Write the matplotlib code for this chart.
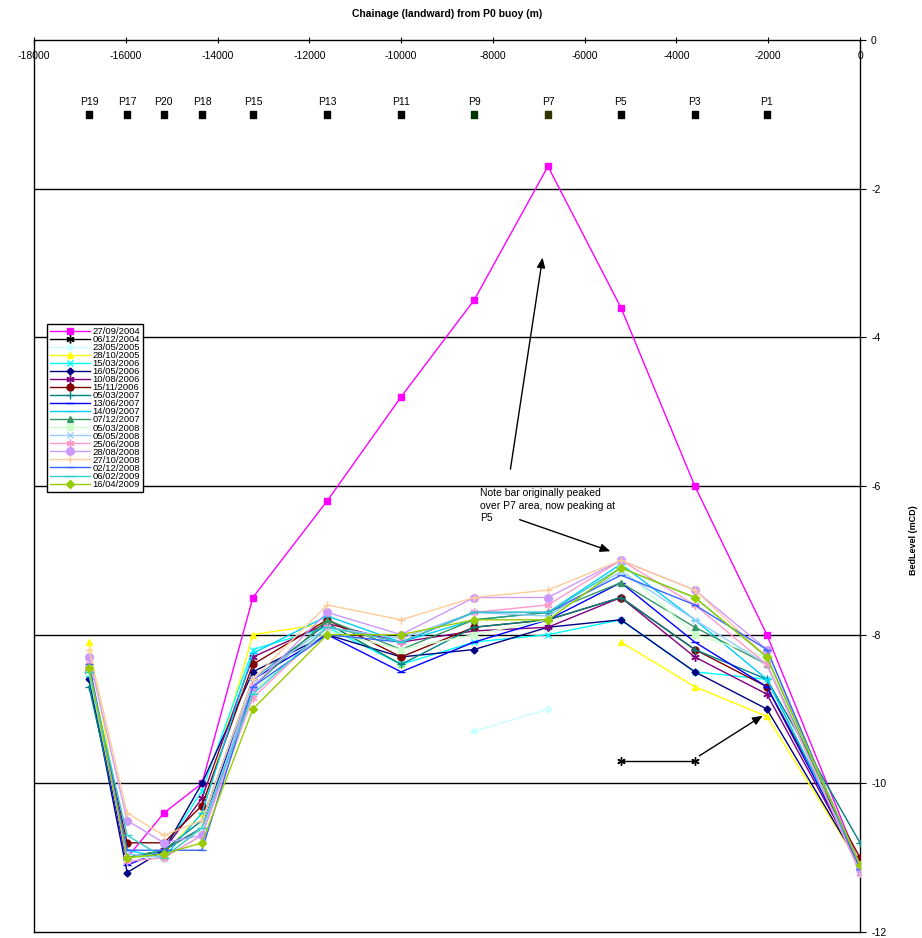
import numpy as np
import matplotlib
matplotlib.use('Agg')
import matplotlib.pyplot as plt

plt.rcParams['font.family'] = ['Liberation Sans', 'DejaVu Sans']
plt.rcParams['axes.unicode_minus'] = False

nan = np.nan

# chainage of the profile points (m, landward from P0 buoy)
chainage = [-16800, -15970, -15170, -14340, -13230, -11610, -10000,
            -8410, -6800, -5210, -3600, -2030, 0]
station_names = ['P19', 'P17', 'P20', 'P18', 'P15', 'P13', 'P11',
                 'P9', 'P7', 'P5', 'P3', 'P1']
station_level = -1.0

# bed levels (mCD) per survey, same order as chainage
s_27_09_2004 = [nan, -11.0, -10.4, -10.0, -7.5, -6.2, -4.8, -3.5, -1.7, -3.6, -6.0, -8.0, -11.1]
s_06_12_2004 = [nan, nan, nan, nan, nan, nan, nan, nan, nan, -9.7, -9.7, nan, nan]
s_23_05_2005 = [nan, nan, nan, nan, nan, nan, nan, -9.3, -9.0, nan, nan, nan, nan]
s_28_10_2005 = [-8.1, -11.0, -10.95, -10.4, -8.0, -7.85, -8.4, nan, nan, -8.1, -8.7, -9.1, -11.1]
s_15_03_2006 = [-8.5, -11.0, -10.9, -10.1, -8.2, -7.9, -8.4, -8.1, -8.0, -7.8, -8.5, -8.6, -11.1]
s_16_05_2006 = [-8.6, -11.2, -10.9, -10.0, -8.5, -8.0, -8.3, -8.2, -7.9, -7.8, -8.5, -9.0, -11.1]
s_10_08_2006 = [-8.45, -11.0, -10.9, -10.2, -8.3, -7.85, -8.1, -7.95, -7.9, -7.5, -8.3, -8.8, -11.1]
s_15_11_2006 = [-8.5, -10.8, -10.8, -10.3, -8.4, -7.8, -8.3, -7.9, -7.8, -7.5, -8.2, -8.7, -11.0]
s_05_03_2007 = [-8.7, -11.0, -10.9, -10.5, -8.6, -7.85, -8.4, -7.9, -7.8, -7.5, -8.2, -8.6, -10.8]
s_13_06_2007 = [-8.5, -11.1, -10.9, -10.6, -8.6, -8.0, -8.5, -8.1, -7.8, -7.3, -8.1, -8.7, -11.1]
s_14_09_2007 = [-8.55, -10.9, -11.0, -10.4, -8.25, -7.75, -8.1, -7.8, -7.7, -7.05, -7.8, -8.6, -11.1]
s_07_12_2007 = [-8.45, -11.0, -10.9, -10.6, -8.7, -7.8, -8.2, -7.8, -7.7, -7.3, -7.9, -8.4, -11.1]
s_05_03_2008 = [-8.5, -11.0, -11.0, -10.6, -8.75, -7.95, -8.2, -8.0, -7.8, -7.1, -8.0, -8.3, -11.1]
s_05_05_2008 = [-8.45, -10.95, -11.0, -10.7, -8.6, -7.9, -8.05, -7.7, -7.75, -7.15, -7.8, -8.4, -11.2]
s_25_06_2008 = [-8.4, -11.05, -11.0, -10.7, -8.85, -7.9, -8.1, -7.7, -7.6, -7.0, -7.6, -8.4, -11.2]
s_28_08_2008 = [-8.3, -10.5, -10.8, -10.7, -8.7, -7.7, -8.0, -7.5, -7.5, -7.0, -7.4, -8.2, -11.15]
s_27_10_2008 = [-8.2, -10.4, -10.7, -10.5, -8.6, -7.6, -7.8, -7.5, -7.4, -7.0, -7.4, -8.3, -11.1]
s_02_12_2008 = [-8.4, -10.9, -10.9, -10.9, -8.7, -8.0, -8.1, -7.7, -7.7, -7.2, -7.6, -8.2, -11.15]
s_06_02_2009 = [-8.5, -10.7, -11.0, -10.6, -8.8, -7.9, -8.1, -7.7, -7.7, -7.1, -7.5, -8.3, -11.1]
s_16_04_2009 = [-8.45, -11.0, -10.95, -10.8, -9.0, -8.0, -8.0, -7.8, -7.8, -7.1, -7.5, -8.3, -11.1]

survey_dates = ['27/09/2004', '06/12/2004', '23/05/2005', '28/10/2005', '15/03/2006',
                '16/05/2006', '10/08/2006', '15/11/2006', '05/03/2007', '13/06/2007',
                '14/09/2007', '07/12/2007', '05/03/2008', '05/05/2008', '25/06/2008',
                '28/08/2008', '27/10/2008', '02/12/2008', '06/02/2009', '16/04/2009']
surveys = [s_27_09_2004, s_06_12_2004, s_23_05_2005, s_28_10_2005, s_15_03_2006,
           s_16_05_2006, s_10_08_2006, s_15_11_2006, s_05_03_2007, s_13_06_2007,
           s_14_09_2007, s_07_12_2007, s_05_03_2008, s_05_05_2008, s_25_06_2008,
           s_28_08_2008, s_27_10_2008, s_02_12_2008, s_06_02_2009, s_16_04_2009]

star = (6, 2, 0)
styles = [('#FF00FF', 's', 4.5), ('#000000', star, 6), ('#CCFFFF', 'D', 3.5),
          ('#FFFF00', '^', 5), ('#00FFFF', 'x', 5), ('#000080', 'D', 3.5),
          ('#800080', star, 6), ('#800000', 'o', 5), ('#008080', '+', 6),
          ('#0000FF', '_', 6), ('#00CCFF', '_', 6), ('#339966', '^', 5),
          ('#CCFFCC', 's', 5), ('#99CCFF', 'x', 5), ('#FF99CC', star, 6),
          ('#CC99FF', 'o', 5.5), ('#FFCC99', '+', 6), ('#3366FF', '_', 6),
          ('#33CCCC', '_', 7), ('#99CC00', 'D', 4)]
station_colors = ['black'] * 7 + ['#003300', '#333300'] + ['black'] * 3

fig = plt.figure(figsize=(9.22, 9.38), dpi=100)
ax = fig.add_axes([34 / 922, 6 / 938, 826 / 922, 892 / 938])

for yv in [-2, -4, -6, -8, -10]:
    ax.axhline(yv, color='black', lw=1, zorder=1)

x = np.array(chainage, dtype=float)
for date, vals, (col, mk, ms) in zip(survey_dates, surveys, styles):
    ax.plot(x, np.array(vals, dtype=float), color=col, marker=mk, markersize=ms,
            markeredgecolor=col, markerfacecolor=col, lw=1, label=date, zorder=3)

# station markers along the top
ax.scatter(chainage[:-1], [station_level] * len(station_names), marker='s', s=22,
           c=station_colors, zorder=4)
for cx, name in zip(chainage[:-1], station_names):
    ax.text(cx, station_level + 0.17, name, ha='center', va='center', fontsize=7.5)

# annotations
ax.text(-8281, -6.03, 'Note bar originally peaked\nover P7 area, now peaking at\nP5',
        fontsize=7.5, ha='left', va='top', linespacing=1.3)
arr = dict(arrowstyle='-|>,head_length=0.6,head_width=0.25', color='black', lw=1)
ax.annotate('', xy=(-6908, -2.89), xytext=(-7627, -5.81), arrowprops=arr)
ax.annotate('', xy=(-5382, -6.89), xytext=(-7474, -6.44), arrowprops=arr)
ax.annotate('', xy=(-2070, -9.07), xytext=(-3552, -9.65), arrowprops=arr)

ax.set_xlim(-18000, 0)
ax.set_ylim(-12, 0)
ax.set_xticks(np.arange(-18000, 1, 2000))
ax.set_yticks(np.arange(-12, 1, 2))
ax.xaxis.tick_top()
ax.tick_params(axis='x', direction='inout', length=4, labelsize=7.5, pad=-17)
ax.yaxis.tick_right()
ax.tick_params(axis='y', direction='out', length=4, labelsize=7.5, pad=4)
for sp in ax.spines.values():
    sp.set_linewidth(1)

fig.text(447 / 922, 1 - 14 / 938, 'Chainage (landward) from P0 buoy (m)',
         ha='center', va='center', fontsize=7.5, fontweight='bold')
fig.text(913 / 922, 1 - 540 / 938, 'BedLevel (mCD)', rotation=90,
         ha='center', va='center', fontsize=6.5, fontweight='bold')

leg = ax.legend(loc='upper left', bbox_to_anchor=(13 / 826, 1 - 284 / 892),
                borderaxespad=0, fontsize=6.8, labelspacing=-0.1, handlelength=4.2,
                handletextpad=0.3, borderpad=0.3, fancybox=False, framealpha=1,
                edgecolor='black')
leg.get_frame().set_linewidth(1)

fig.savefig('out.png', dpi=100)
